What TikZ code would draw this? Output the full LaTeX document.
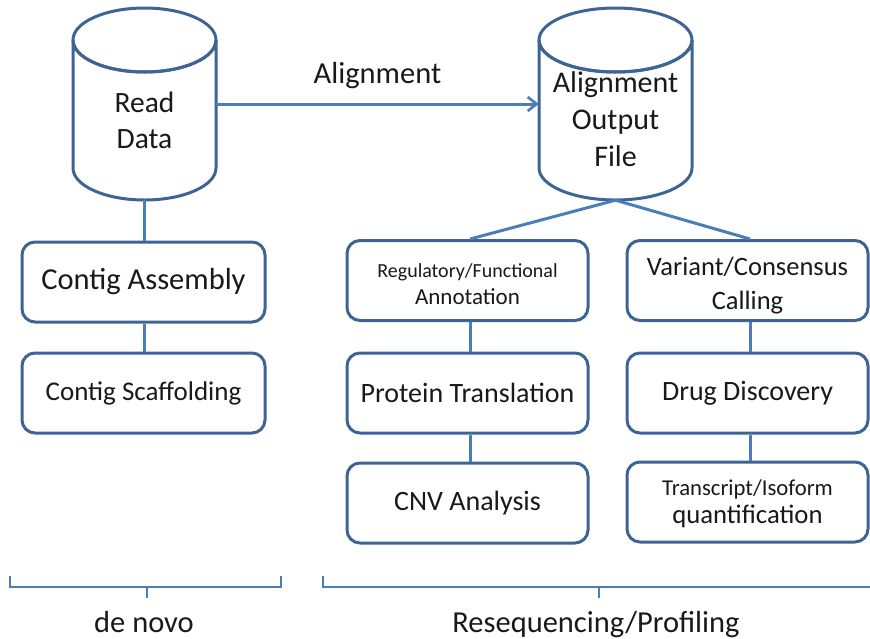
\documentclass[tikz,border=0pt]{standalone}
\usepackage{fontspec}
\setmainfont{Carlito}
\usetikzlibrary{arrows.meta}
\definecolor{edge}{RGB}{62,100,150}
\definecolor{link}{RGB}{74,126,187}
\definecolor{ink}{RGB}{25,25,25}
\tikzset{
  box/.style={draw=edge, line width=3pt, rounded corners=13pt, fill=white,
    minimum width=#1, minimum height=80pt, align=center, text=ink, inner sep=1pt},
  box/.default=241pt,
  dbhold/.style={minimum width=#1, minimum height=192pt, inner sep=0pt},
  conn/.style={draw=link, line width=3pt},
  brace/.style={draw=link, line width=2pt},
  lbl/.style={text=ink, inner sep=0pt, align=center}
}
\newcommand{\dbshape}[3]{% centre x, top y, x radius
  \draw[edge, line width=3pt, fill=white]
    (#1-#3,#2+32) -- (#1-#3,#2+160) arc[start angle=180, end angle=0, x radius=#3, y radius=32]
    -- (#1+#3,#2+32) arc[start angle=0, end angle=180, x radius=#3, y radius=32] -- cycle;
  \draw[edge, line width=3pt] (#1,#2+32) ellipse[x radius=#3, y radius=32];
}
% taller first line, pushes two-line box texts down a little
\newcommand{\toppad}[1]{\rule{0pt}{#1}}
\begin{document}
\begin{tikzpicture}[x=1pt, y=-1pt]
\useasboundingbox (0,0) rectangle (870,638);

% databases
\dbshape{144.5}{8}{71.5}
\dbshape{615.5}{8}{76.5}
\node[dbhold=143pt] (read) at (144.5,104) {};
\node[dbhold=153pt] (aln) at (615.5,104) {};
% multi-line labels: the base anchor sits on the last line
\node[lbl, anchor=base, font=\fontsize{29.5}{36}\selectfont] (readlbl) at (144.5,148) {Read\\Data};
\node[lbl, anchor=base, font=\fontsize{30}{37}\selectfont] (alnlbl) at (615.5,166) {Alignment\\Output\\File};

% de novo branch
\node[box=243pt, font=\fontsize{30.5}{34}\selectfont] (asm) at (143.5,282) {Contig Assembly};
\node[box=243pt, font=\fontsize{27}{32}\selectfont] (scf) at (143.5,393) {Contig Scaffolding};

% resequencing branches
\node[box, font=\fontsize{23}{27}\selectfont] (reg) at (467.5,280.5)
  {\toppad{22pt}{\fontsize{20}{27}\selectfont Regulatory/Functional}\\Annotation};
\node[box, font=\fontsize{26.5}{34}\selectfont] (var) at (747.5,280.5) {\toppad{28pt}Variant/Consensus\\Calling};
\node[box, font=\fontsize{28}{32}\selectfont] (prot) at (467.5,393) {Protein Translation};
\node[box, font=\fontsize{28}{32}\selectfont] (drug) at (747.5,393) {Drug Discovery};
\node[box, font=\fontsize{28}{32}\selectfont] (cnv) at (467.5,503) {CNV Analysis};
\node[box, font=\fontsize{26.7}{28}\selectfont] (iso) at (747.5,502)
  {\toppad{20pt}{\fontsize{22.7}{28}\selectfont Transcript/Isoform}\\quantification};

% connectors
\draw[conn, -{Straight Barb[length=9pt, width=14pt, line width=2.6pt]}] (read.east) -- (aln.west)
  node[midway, lbl, anchor=base, yshift=21pt, font=\fontsize{30.5}{34}\selectfont] (alnedge) {Alignment};
\draw[conn] (read.south) -- (read.south |- asm.north);
\draw[conn] (read.south |- asm.south) -- (read.south |- scf.north);
\draw[conn] (aln.south) -- ([xshift=2.5pt]reg.north);
\draw[conn] (aln.south) -- ([xshift=2.5pt]var.north);
\draw[conn] ([xshift=2.5pt]reg.south) -- ([xshift=2.5pt]prot.north);
\draw[conn] ([xshift=2.5pt]prot.south) -- ([xshift=2.5pt]cnv.north);
\draw[conn] ([xshift=2.5pt]var.south) -- ([xshift=2.5pt]drug.north);
\draw[conn] ([xshift=2.5pt]drug.south) -- ([xshift=2.5pt]iso.north);

% group braces
\coordinate (bl1) at (10,576);
\coordinate (bl2) at (281,576);
\coordinate (bt1) at (147,598);
\coordinate (br1) at (323,576);
\coordinate (br2) at (872,576);
\coordinate (bt2) at (599,598);
\draw[brace] (bl1) -- (bl1 |- 0,587) -- (bl2 |- 0,587) -- (bl2);
\draw[brace] (bt1 |- 0,587) -- (bt1);
\draw[brace] (br1) -- (br1 |- 0,587) -- (br2 |- 0,587);
\draw[brace] (bt2 |- 0,587) -- (bt2);
\node[lbl, font=\fontsize{30.5}{34}\selectfont, anchor=base] (denovo) at (144,632) {de novo};
\node[lbl, font=\fontsize{30.5}{34}\selectfont, anchor=base] (reseq) at (596,632) {Resequencing/Profiling};
\end{tikzpicture}
\end{document}
